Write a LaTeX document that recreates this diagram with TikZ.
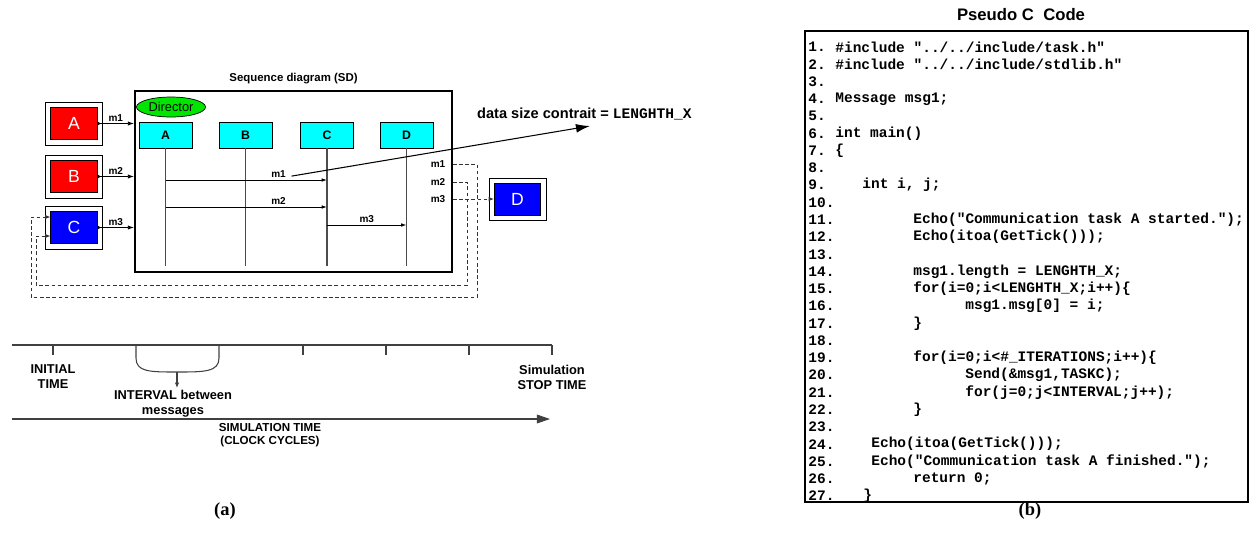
\documentclass[tikz,border=0pt]{standalone}
\usepackage{fontspec}
\setmainfont{Liberation Sans}
\setmonofont{Liberation Mono}
\newfontfamily\capserif{Liberation Serif}
\usepackage{tikz}
\usetikzlibrary{positioning,shapes.geometric,arrows.meta}
\definecolor{taskred}{RGB}{255,0,0}
\definecolor{taskblue}{RGB}{0,0,255}
\definecolor{lifecyan}{RGB}{0,255,255}
\definecolor{dirgreen}{RGB}{0,230,0}
\newcommand{\codeln}[3]{\node[lcode] (c#1) at (#2,{47+(#1-1)*17.27}) {#3};}

\begin{document}
\begin{tikzpicture}[x=0.02cm, y=-0.02cm,
font=\bfseries\fontsize{6}{7}\selectfont,
tbox/.style={draw, fill=white, minimum width=1.13cm, minimum height=0.86cm, inner sep=0},
core/.style={draw, minimum width=0.93cm, minimum height=0.64cm, inner sep=0, text=white, font=\mdseries\fontsize{10}{12}\selectfont},
life/.style={draw, fill=lifecyan, minimum width=1.06cm, minimum height=0.52cm, inner sep=0, font=\bfseries\fontsize{7}{8}\selectfont},
tmsg/.style={{Latex[reversed,length=2pt,width=2.5pt]}-{Latex[length=3.5pt,width=2.5pt]}, line width=0.5pt},
msg/.style={-{Latex[length=3pt,width=2pt]}, line width=0.5pt},
ll/.style={line width=0.7pt, black!70},
fb/.style={dash pattern=on 2pt off 1.5pt, line width=0.5pt, black!80},
tl/.style={line width=0.6pt, black!75},
lbl/.style={inner sep=1pt, font=\bfseries\fontsize{5.7}{7}\selectfont},
tlbl/.style={align=center, inner sep=1pt, font=\bfseries\fontsize{7.3}{8.5}\selectfont},
lnum/.style={anchor=west, inner sep=0, font=\ttfamily\bfseries\fontsize{8.25}{10}\selectfont},
lcode/.style={lnum}
]
\useasboundingbox (0,0) rectangle (1250,549);

\node[tbox] (ta) at (74,123.5) {};
\node[core, fill=taskred] (ia) at (ta) {A};
\node[tbox] (tb) at (74,176.5) {};
\node[core, fill=taskred] (ib) at (tb) {B};
\node[tbox] (tc) at (74,227.5) {};
\node[core, fill=taskblue] (ic) at (tc) {C};

\node[draw, line width=1.2pt, minimum width=6.34cm, minimum height=3.62cm, inner sep=0] (sd) at (293.5,181.5) {};
\node[font=\bfseries\fontsize{6.5}{8}\selectfont, above=0pt of sd.north] (sdtitle) {Sequence diagram (SD)};
\node[ellipse, draw, fill=dirgreen, minimum width=1.38cm, minimum height=0.4cm, inner sep=0, font=\mdseries\fontsize{7.3}{8}\selectfont] (dir) at (171,107) {Director};

\draw[tmsg] (ia.east) -- (ia.east -| sd.west) node[lbl, midway, above] {m1};
\draw[tmsg] (ib.east) -- (ib.east -| sd.west) node[lbl, midway, above] {m2};
\draw[tmsg] (ic.east) -- (ic.east -| sd.west) node[lbl, midway, above] {m3};

\node[life] (la) at (165.5,135) {A};
\node[life] (lb) at (245.5,135) {B};
\node[life] (lc) at (327,135) {C};
\node[life] (ld) at (406.5,135) {D};
\coordinate (lbot) at (0,266);
\foreach \n in {la,lb,lc,ld}
  \draw[ll] (\n.south) -- (\n.south |- lbot);

\coordinate (y1) at (0,180);
\coordinate (y2) at (0,207);
\coordinate (y3) at (0,225);
\draw[msg] (la |- y1) -- (lc |- y1) node[lbl, pos=0.7, above] (m1lab) {m1};
\draw[msg] (la |- y2) -- (lc |- y2) node[lbl, pos=0.7, above] (m2lab) {m2};
\draw[msg] (lc |- y3) -- (ld |- y3) node[lbl, midway, above] (m3lab) {m3};

\coordinate (dtip) at (590,126);
\draw[-{Latex[length=8pt,width=5pt]}, line width=0.6pt] ([xshift=2pt,yshift=-1pt]m1lab.east) -- (dtip);
\node[anchor=west, font=\bfseries\fontsize{8.3}{10}\selectfont] (dlab) at (471,114) {data size contrait = {\ttfamily LENGHTH\_X}};

\node[lbl] (r1) at (438,164) {m1};
\node[lbl] (r2) at (438,182) {m2};
\node[lbl] (r3) at (438,199) {m3};

\node[tbox, minimum width=1.14cm, minimum height=0.84cm] (td) at (517.5,199) {};
\node[core, fill=taskblue] (id) at (td) {D};

\draw[fb, -{Latex[length=3pt,width=2.5pt]}] (r3 -| sd.east) -- (r3 -| id.west);
\coordinate (f1) at (477,297);
\coordinate (f2) at (31,217);
\draw[fb, -{Latex[length=3pt,width=2.5pt]}] (r1 -| sd.east) -| (f1) -| (f2) -- (f2 -| ic.west);
\coordinate (g1) at (467,285);
\coordinate (g2) at (36,236);
\draw[fb, -{Latex[length=3pt,width=2.5pt]}] (r2 -| sd.east) -| (g1) -| (g2) -- (g2 -| ic.west);

\coordinate (t0) at (12,345);
\coordinate (t1) at (552,345);
\draw[tl] (t0) -- (t1);
\foreach \x in {53,303,386,469,552}
  \draw[tl] (\x,345) -- (\x,355);
\draw[tl] (136,345) -- (136,358) .. controls (136,372) and (150,372) .. (177,372) .. controls (204,372) and (219,372) .. (219,358) -- (219,345);
\coordinate (bc) at (177,372);
\coordinate (bd) at (177,388);
\draw[tl, -{Latex[length=3pt,width=2.5pt]}] (bc) -- (bd);
\node[tlbl] (tinit) at (53,377) {INITIAL\\TIME};
\node[tlbl] (tint) at (173,404) {INTERVAL between\\messages};
\node[tlbl] (tstop) at (552,377) {Simulation\\STOP TIME};
\coordinate (s0) at (12,419);
\coordinate (s1) at (550,419);
\draw[tl, -{Triangle[length=7.5pt,width=5pt]}] (s0) -- (s1);
\node[tlbl, font=\bfseries\fontsize{6.6}{7.4}\selectfont] (tsim) at (270,435) {SIMULATION TIME\\(CLOCK CYCLES)};

\node[font=\capserif\bfseries\fontsize{10.5}{12}\selectfont] (capa) at (225,511) {(a)};
\node[font=\capserif\bfseries\fontsize{10.5}{12}\selectfont] (capb) at (1030,511) {(b)};

\node[font=\bfseries\fontsize{9.5}{11}\selectfont] (ctitle) at (1021,15) {Pseudo C\ \ Code};
\node[draw, line width=1.1pt, minimum width=8.86cm, minimum height=9.42cm, inner sep=0] (code) at (1026.5,266.5) {};
\foreach \n in {1,...,27}
  \node[lnum] (n\n) at (808,{47+(\n-1)*17.27}) {\n.};
\codeln{1}{835}{\#include "../../include/task.h"}
\codeln{2}{835}{\#include "../../include/stdlib.h"}
\codeln{4}{835}{Message msg1;}
\codeln{6}{835}{int main()}
\codeln{7}{835}{\{}
\codeln{9}{862}{int i, j;}
\codeln{11}{913}{Echo("Communication task A started.");}
\codeln{12}{913}{Echo(itoa(GetTick()));}
\codeln{14}{913}{msg1.length = LENGHTH\_X;}
\codeln{15}{913}{for(i=0;i<LENGHTH\_X;i++)\{}
\codeln{16}{965}{msg1.msg[0] = i;}
\codeln{17}{913}{\}}
\codeln{19}{913}{for(i=0;i<\#\_ITERATIONS;i++)\{}
\codeln{20}{965}{Send(\&msg1,TASKC);}
\codeln{21}{965}{for(j=0;j<INTERVAL;j++);}
\codeln{22}{913}{\}}
\codeln{24}{871}{Echo(itoa(GetTick()));}
\codeln{25}{871}{Echo("Communication task A finished.");}
\codeln{26}{913}{return 0;}
\codeln{27}{863}{\}}
\end{tikzpicture}
\end{document}
